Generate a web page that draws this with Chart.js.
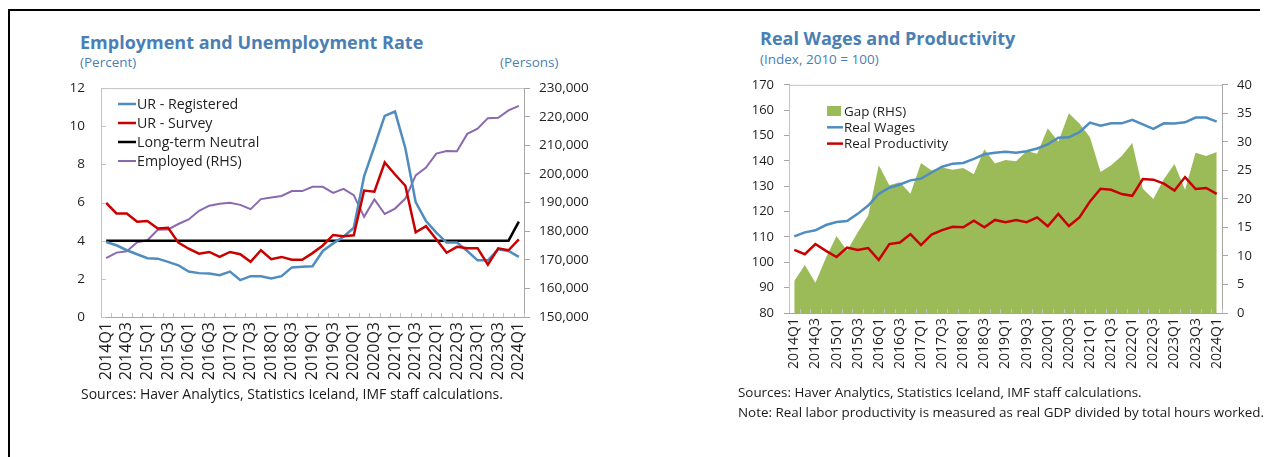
<!DOCTYPE html>
<html>
<head>
<meta charset="utf-8">
<script src="https://cdn.jsdelivr.net/npm/chart.js@4.4.0/dist/chart.umd.min.js"></script>
<style>
  body { margin: 0; background: #fff; font-family: "Open Sans", sans-serif; }
  #page { position: relative; width: 1268px; height: 457px; overflow: hidden; }
  .frame { position: absolute; left: 8px; top: 9px; width: 1250px; height: 460px;
           border-top: 2px solid #000; border-left: 2px solid #000; }
  .title { position: absolute; font-weight: 700; font-size: 18px; line-height: 1; color: #4a7fb5; white-space: nowrap; }
  .sub { position: absolute; font-size: 13.5px; line-height: 1; color: #4a7fb5; white-space: nowrap; }
  .note { position: absolute; font-size: 13.4px; line-height: 1; color: #1a1a1a; white-space: nowrap; }
  canvas { position: absolute; }
</style>
</head>
<body>
<div id="page">
  <div class="frame"></div>

  <div class="title" style="left:80px; top:33px;">Employment and Unemployment Rate</div>
  <div class="sub" style="left:80px; top:56px;">(Percent)</div>
  <div class="sub" style="left:500px; top:56px;">(Persons)</div>
  <canvas id="left" width="550" height="328" style="left:55px; top:64px;"></canvas>
  <div class="note" style="left:81px; top:387px; font-size:14px;">Sources: Haver Analytics, Statistics Iceland, IMF staff calculations.</div>

  <div class="title" style="left:760px; top:29px;">Real Wages and Productivity</div>
  <div class="sub" style="left:760px; top:53px;">(Index, 2010 = 100)</div>
  <canvas id="right" width="535" height="325" style="left:730px; top:67px;"></canvas>
  <div class="note" style="left:738px; top:386px;">Sources: Haver Analytics, Statistics Iceland, IMF staff calculations.</div>
  <div class="note" style="left:738px; top:406px;">Note: Real labor productivity is measured as real GDP divided by total hours worked.</div>
</div>

<script>
// quarters 2014Q1 - 2024Q1
const quarters = [
  '2014Q1','2014Q2','2014Q3','2014Q4','2015Q1','2015Q2','2015Q3','2015Q4',
  '2016Q1','2016Q2','2016Q3','2016Q4','2017Q1','2017Q2','2017Q3','2017Q4',
  '2018Q1','2018Q2','2018Q3','2018Q4','2019Q1','2019Q2','2019Q3','2019Q4',
  '2020Q1','2020Q2','2020Q3','2020Q4','2021Q1','2021Q2','2021Q3','2021Q4',
  '2022Q1','2022Q2','2022Q3','2022Q4','2023Q1','2023Q2','2023Q3','2023Q4',
  '2024Q1'
];

// left chart (percent / persons)
const urRegistered = [3.93, 3.76, 3.5, 3.29, 3.08, 3.06, 2.89, 2.71, 2.38, 2.3, 2.28,
  2.19, 2.38, 1.93, 2.14, 2.14, 2.02, 2.14, 2.6, 2.63, 2.66,
  3.46, 3.86, 4.21, 4.68, 7.37, 8.94, 10.54, 10.77, 8.85, 6.02,
  5.03, 4.42, 3.9, 3.9, 3.46, 2.97, 2.97, 3.55, 3.46, 3.15];
const urSurvey = [5.98, 5.43, 5.43, 4.99, 5.03, 4.64, 4.68, 3.9, 3.58, 3.32, 3.41,
  3.15, 3.41, 3.29, 2.89, 3.5, 3.03, 3.15, 3.0, 3.0, 3.35,
  3.75, 4.3, 4.24, 4.28, 6.63, 6.57, 8.1, 7.47, 6.88, 4.44,
  4.76, 4.08, 3.37, 3.68, 3.6, 3.61, 2.74, 3.6, 3.5, 4.07];
const longTermNeutral = [4, 4, 4, 4, 4, 4, 4, 4, 4, 4, 4,
  4, 4, 4, 4, 4, 4, 4, 4, 4, 4,
  4, 4, 4, 4, 4, 4, 4, 4, 4, 4,
  4, 4, 4, 4, 4, 4, 4, 4, 4, 5];
const employed = [170600, 172500, 173000, 176100, 176800, 180500, 180600, 182500, 184100, 187100, 188900,
  189600, 189900, 189200, 187700, 191200, 191800, 192300, 194000, 194000, 195500,
  195500, 193400, 194800, 192600, 185000, 191100, 186000, 187900, 191400, 199500,
  202200, 207100, 208000, 207900, 214000, 215800, 219500, 219600, 222200, 223800];

// right chart (index, 2010 = 100)
const realWages = [110.2, 111.8, 112.6, 114.7, 115.9, 116.3, 119.1, 122.4, 127.0, 129.4, 130.7,
  132.3, 133.0, 135.4, 137.7, 138.9, 139.2, 140.8, 142.6, 143.2, 143.6,
  143.2, 143.8, 144.9, 146.5, 149.1, 149.3, 151.3, 155.1, 153.9, 154.8,
  154.8, 156.2, 154.4, 152.6, 154.8, 154.7, 155.2, 157.1, 157.1, 155.5];
const realProductivity = [104.9, 103.2, 107.2, 104.5, 102.1, 105.8, 104.9, 105.6, 100.9, 107.2, 107.8,
  111.1, 106.8, 110.9, 112.7, 114.0, 113.8, 116.4, 113.8, 116.7, 115.8,
  116.7, 115.8, 117.7, 114.2, 119.1, 114.3, 117.7, 124.0, 129.0, 128.6,
  126.9, 126.2, 132.8, 132.6, 131.0, 128.3, 133.6, 128.9, 129.3, 127.0];
const gap = [5.6, 8.4, 5.3, 9.7, 13.5, 10.9, 14.1, 17.1, 25.9, 22.4, 22.9,
  20.9, 26.3, 25.0, 25.5, 25.1, 25.4, 24.3, 28.7, 26.2, 26.8,
  26.6, 28.4, 27.9, 32.4, 30.0, 35.0, 33.2, 30.8, 24.7, 25.9,
  27.5, 29.8, 21.8, 20.0, 23.5, 26.1, 21.6, 28.1, 27.5, 28.2];

const BLUE = '#4f8cc0';
const RED = '#c80000';
const PURPLE = '#8a6aae';
const GREEN = '#9bbb59';
const AXIS = '#a6a6a6';
const TXT = '#1f1f1f';

// box around the plot, short inward ticks on the category axis
const frameTicks = {
  id: 'frameTicks',
  afterDatasetsDraw(chart, args, opts) {
    const { ctx, chartArea: a, scales } = chart;
    ctx.save();
    ctx.strokeStyle = opts.color;
    ctx.lineWidth = 1;
    ctx.beginPath();
    ctx.moveTo(a.left + 0.5, a.bottom);
    ctx.lineTo(a.left + 0.5, a.top + 0.5);
    ctx.lineTo(a.right, a.top + 0.5);
    ctx.stroke();
    ctx.beginPath();
    for (let i = 0; i <= quarters.length; i++) {
      const px = Math.round(scales.x.getPixelForValue(i - 0.5)) + 0.5;
      ctx.moveTo(px, a.bottom);
      ctx.lineTo(px, a.bottom - 4);
    }
    if (opts.leftInner) {
      scales.y.ticks.forEach(t => {
        const py = Math.round(scales.y.getPixelForValue(t.value)) + 0.5;
        ctx.moveTo(a.left, py);
        ctx.lineTo(a.left + 5, py);
      });
    }
    ctx.stroke();
    ctx.restore();
  }
};

// legend drawn inside the plot area
const innerLegend = {
  id: 'innerLegend',
  afterDraw(chart, args, opts) {
    const ctx = chart.ctx;
    ctx.save();
    ctx.font = opts.font;
    ctx.fillStyle = TXT;
    ctx.textBaseline = 'middle';
    opts.order.forEach((idx, k) => {
      const ds = chart.data.datasets[idx];
      const y = opts.y + k * opts.row;
      if (ds.fill) {
        ctx.fillStyle = ds.backgroundColor;
        ctx.fillRect(opts.x, y - 5, opts.sample - 2, 10);
      } else {
        ctx.strokeStyle = ds.borderColor;
        ctx.lineWidth = ds.borderWidth;
        ctx.beginPath();
        ctx.moveTo(opts.x, y);
        ctx.lineTo(opts.x + opts.sample, y);
        ctx.stroke();
      }
      ctx.fillStyle = TXT;
      ctx.fillText(ds.label, opts.x + opts.sample + 1, y + 1);
    });
    ctx.restore();
  }
};

function quarterTick(value, index) {
  return index % 2 === 0 ? quarters[index] : '';
}

function lineSet(label, data, color, width, axis, order) {
  return {
    label: label, data: data, borderColor: color, borderWidth: width,
    pointRadius: 0, tension: 0, fill: false, yAxisID: axis, order: order
  };
}

new Chart(document.getElementById('left'), {
  type: 'line',
  data: {
    labels: quarters,
    datasets: [
      lineSet('UR - Registered', urRegistered, BLUE, 2.5, 'y', 2),
      lineSet('UR - Survey', urSurvey, RED, 2.5, 'y', 1),
      lineSet('Long-term Neutral', longTermNeutral, '#000000', 2.5, 'y', 3),
      lineSet('Employed (RHS)', employed, PURPLE, 2, 'y1', 4)
    ]
  },
  options: {
    responsive: false,
    animation: false,
    devicePixelRatio: 1,
    layout: { padding: { top: 10, left: 0, right: 0, bottom: 0 } },
    plugins: {
      legend: { display: false },
      tooltip: { enabled: false },
      frameTicks: { color: '#c3c3c3', leftInner: true },
      innerLegend: { x: 63, y: 40, row: 19, sample: 18, order: [0, 1, 2, 3], font: '14.2px "Open Sans"' }
    },
    scales: {
      x: {
        offset: true,
        grid: { display: false, drawTicks: false, offset: true },
        border: { display: true, color: AXIS },
        ticks: {
          autoSkip: false, minRotation: 90, maxRotation: 90, padding: 5,
          color: TXT, font: { family: 'Open Sans', size: 16 },
          callback: quarterTick
        },
        afterFit(s) { s.height = 75; }
      },
      y: {
        position: 'left', min: 0, max: 12,
        grid: { display: false, drawTicks: false },
        border: { display: false },
        ticks: { stepSize: 2, padding: 16, color: TXT, font: { family: 'Open Sans', size: 13.5 } },
        afterFit(s) { s.width = 46; }
      },
      y1: {
        position: 'right', min: 150000, max: 230000,
        grid: { drawOnChartArea: false, tickLength: 6, color: AXIS },
        border: { display: true, color: AXIS },
        ticks: {
          stepSize: 10000, padding: 9, color: TXT, font: { family: 'Open Sans', size: 13.5 },
          callback: v => v.toLocaleString('en-US')
        },
        afterFit(s) { s.width = 81; }
      }
    }
  },
  plugins: [frameTicks, innerLegend]
});

new Chart(document.getElementById('right'), {
  type: 'line',
  data: {
    labels: quarters,
    datasets: [
      { label: 'Gap (RHS)', data: gap, yAxisID: 'y1', order: 3, fill: 'origin',
        backgroundColor: GREEN, borderColor: GREEN, borderWidth: 0, pointRadius: 0, tension: 0 },
      lineSet('Real Wages', realWages, BLUE, 2.5, 'y', 2),
      lineSet('Real Productivity', realProductivity, RED, 2.5, 'y', 1)
    ]
  },
  options: {
    responsive: false,
    animation: false,
    devicePixelRatio: 1,
    layout: { padding: { top: 10, left: 0, right: 0, bottom: 0 } },
    plugins: {
      legend: { display: false },
      tooltip: { enabled: false },
      filler: { propagate: false },
      frameTicks: { color: '#c3c3c3', leftInner: false },
      innerLegend: { x: 97, y: 44, row: 16.3, sample: 16, order: [0, 1, 2], font: '13.4px "Open Sans"' }
    },
    scales: {
      x: {
        offset: true,
        grid: { display: false, drawTicks: false, offset: true },
        border: { display: true, color: AXIS },
        ticks: {
          autoSkip: false, minRotation: 90, maxRotation: 90, padding: 5,
          color: TXT, font: { family: 'Open Sans', size: 14 },
          callback: quarterTick
        },
        afterFit(s) { s.height = 79; }
      },
      y: {
        position: 'left', min: 80, max: 170,
        grid: { drawOnChartArea: false, tickLength: 5, color: AXIS },
        border: { display: true, color: AXIS },
        ticks: { stepSize: 10, padding: 10, color: TXT, font: { family: 'Open Sans', size: 13 } },
        afterFit(s) { s.width = 59; }
      },
      y1: {
        position: 'right', min: 0, max: 40,
        grid: { drawOnChartArea: false, tickLength: 6, color: AXIS },
        border: { display: true, color: AXIS },
        ticks: { stepSize: 5, padding: 9, color: TXT, font: { family: 'Open Sans', size: 13 } },
        afterFit(s) { s.width = 43; }
      }
    }
  },
  plugins: [frameTicks, innerLegend]
});
</script>
</body>
</html>
